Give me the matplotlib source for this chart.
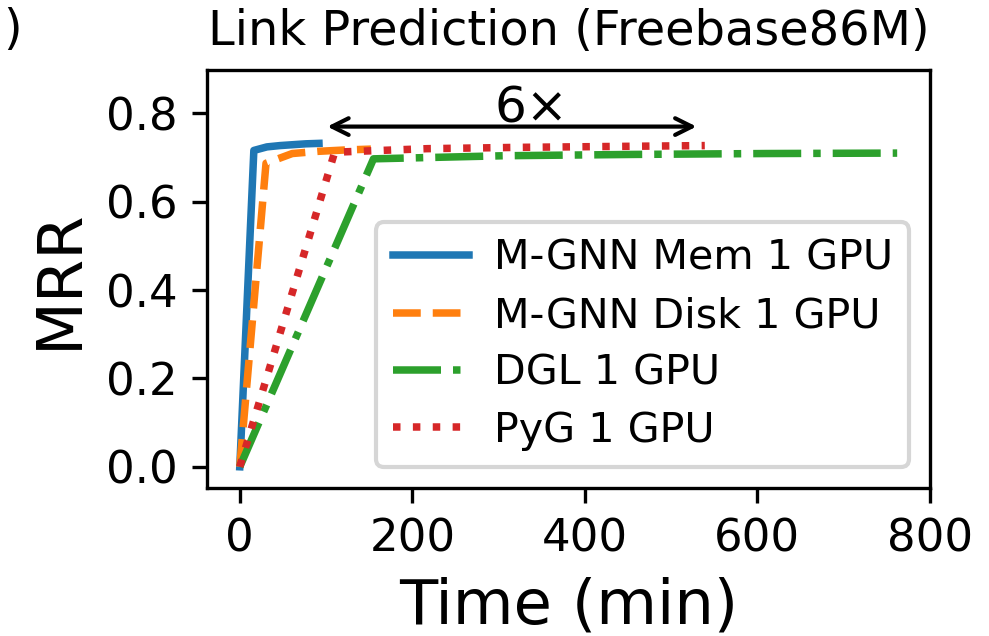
import matplotlib
matplotlib.use("Agg")
import matplotlib.pyplot as plt

# values
mem_time = [0, 16.3, 31.4, 46.5, 61.6, 76.7, 91.8]
mem_mrr = [0, 0.716, 0.724, 0.727, 0.729, 0.731, 0.732]

disk_time = [0, 30.4, 60.8, 91.2, 121.6, 152]
disk_mrr = [0, 0.687, 0.709, 0.714, 0.717, 0.719]

dgl_time = [0, 155, 306, 458, 610, 762]
dgl_mrr = [0, 0.697, 0.704, 0.707, 0.709, 0.710]

pyg_time = [0, 110, 217, 324, 432, 539]
pyg_mrr = [0, 0.712, 0.720, 0.723, 0.725, 0.727]

labels = ["M-GNN Mem 1 GPU", "M-GNN Disk 1 GPU", "DGL 1 GPU", "PyG 1 GPU"]

fig = plt.figure(figsize=(989 / 300, 636 / 300), dpi=300)
ax = fig.add_axes([0.2093, 0.2327, 0.7310, 0.6572])

lw = 1.8
ax.plot(mem_time, mem_mrr, color="tab:blue", linestyle="-", lw=lw, label=labels[0])
ax.plot(disk_time, disk_mrr, color="tab:orange", linestyle="--", lw=lw, label=labels[1])
ax.plot(dgl_time, dgl_mrr, color="tab:green", linestyle="-.", lw=lw, label=labels[2])
ax.plot(pyg_time, pyg_mrr, color="tab:red", linestyle=":", lw=lw, label=labels[3])

# speedup arrow between M-GNN Mem and PyG
ax.annotate("", xy=(mem_time[-1], 0.77), xytext=(pyg_time[-1], 0.77),
            arrowprops=dict(arrowstyle="<->", color="black", lw=1.0))
ax.text((mem_time[-1] + pyg_time[-1]) / 2 + 23, 0.78, "6\u00d7", ha="center",
        va="baseline", fontsize=12)

ax.set_xlim(-38, 800)
ax.set_ylim(-0.048, 0.898)
ax.set_xticks([0, 200, 400, 600, 800])
ax.set_yticks([0.0, 0.2, 0.4, 0.6, 0.8])
ax.tick_params(labelsize=10.8)
ax.set_xlabel("Time (min)", fontsize=15)
ax.set_ylabel("MRR", fontsize=15)
ax.set_title("Link Prediction (Freebase86M)", fontsize=11.5)
ax.legend(loc="lower right", fontsize=9.9, handletextpad=0.6,
          handlelength=1.85, labelspacing=0.42)

fig.text(22 / 989, 1 - 30 / 636, ")", ha="right", va="center", fontsize=11.5)

fig.savefig("out.png", dpi=300)
